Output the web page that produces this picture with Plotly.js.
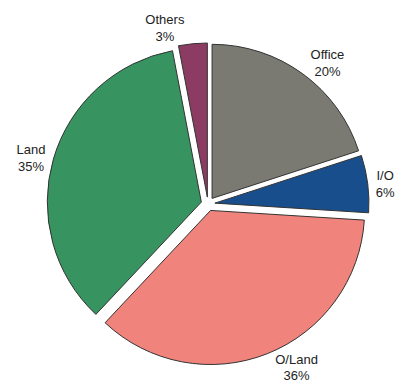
<!DOCTYPE html>
<html><head><meta charset="utf-8">
<script src="https://cdn.plot.ly/plotly-3.0.1.min.js"></script>
<style>html,body{margin:0;padding:0;background:#fff;}</style>
</head><body>
<div id="chart" style="width:398px;height:383px;"></div>
<script>
const labels = ["Office", "I/O", "O/Land", "Land", "Others"];
const values = [20, 6, 36, 35, 3];
const colors = ["#7a7a73", "#174e8b", "#f0837c", "#37935f", "#8c3b63"];

Plotly.newPlot("chart", [{
  type: "pie",
  labels: labels,
  values: values,
  sort: false,
  direction: "clockwise",
  rotation: 0,
  pull: 0.045,
  marker: {colors: colors, line: {color: "#333333", width: 1}},
  texttemplate: "%{label}<br>%{value}%",
  textposition: "outside",
  textfont: {family: "Liberation Sans, Arial, sans-serif", size: 13, color: "#222"},
  automargin: false,
  hoverinfo: "none",
  domain: {x: [0, 1], y: [0, 1]}
}], {
  width: 398, height: 383,
  margin: {l: 47, r: 29, t: 43, b: 18},
  showlegend: false,
  paper_bgcolor: "#fff"
}, {displayModeBar: false, staticPlot: true});
</script>
</body></html>
